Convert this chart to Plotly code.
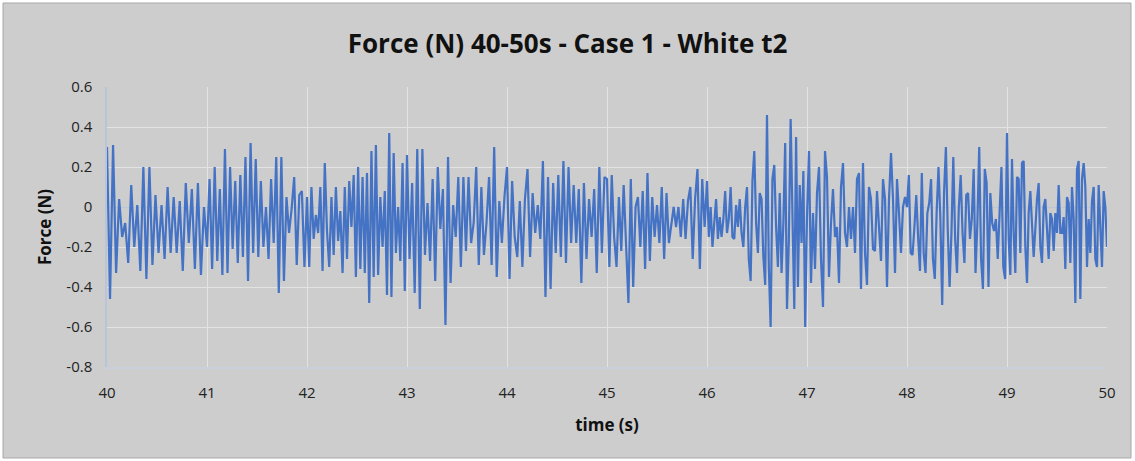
import numpy as np
import plotly.graph_objects as go

# Force values (N), listed per one-second window (peaks/troughs in order)
seconds = [40, 41, 42, 43, 44, 45, 46, 47, 48, 49]
f40 = [0.30, -0.46, 0.31, -0.33, 0.04, -0.15, -0.08, -0.28, 0.11, -0.20, 0.01, -0.32, 0.20, -0.36, 0.20, -0.29,
       0.06, -0.23, 0.01, -0.26, 0.10, -0.23, 0.05, -0.23, 0.03, -0.32, 0.12, -0.18, 0.09, -0.31, 0.12, -0.34, 0.00]
f41 = [-0.20, 0.14, -0.31, 0.20, -0.27, 0.09, -0.34, 0.29, -0.33, 0.20, -0.21, 0.13, -0.28, 0.16, -0.25, 0.25,
       -0.37, 0.32, -0.23, 0.24, -0.25, 0.13, -0.20, 0.00, -0.26, 0.14, -0.18, 0.25, -0.43, 0.25, -0.37, 0.05,
       -0.13, -0.01, 0.15, -0.29, 0.06, 0.08, -0.30]
f42 = [0.05, -0.30, 0.10, -0.16, -0.04, -0.13, 0.10, -0.32, 0.22, -0.12, -0.30, 0.05, -0.24, 0.10, -0.17, -0.02,
       -0.33, 0.10, -0.26, 0.13, -0.10, 0.16, -0.35, 0.20, -0.31, 0.15, -0.33, 0.17, -0.48, 0.28, -0.35, 0.31,
       -0.34, 0.05, -0.20, 0.08, -0.44, 0.37, -0.45, 0.27, -0.23, 0.00, -0.27, 0.22, -0.42]
f43 = [0.26, -0.26, 0.12, -0.43, 0.29, -0.51, 0.29, -0.24, 0.02, -0.27, 0.14, -0.37, 0.20, -0.11, 0.09, -0.59,
       0.25, -0.38, 0.01, -0.15, 0.15, -0.30, 0.15, -0.22, 0.15, -0.18, -0.08, 0.20, -0.29, 0.10, -0.24, -0.08,
       0.15, -0.29, 0.30, -0.35, 0.03, -0.18, 0.05]
f44 = [0.20, -0.36, 0.13, -0.15, -0.25, 0.03, -0.30, 0.04, 0.19, -0.25, 0.07, -0.13, 0.01, -0.16, 0.23, -0.45,
       0.15, -0.41, 0.12, -0.23, 0.16, -0.25, 0.23, -0.28, 0.20, -0.18, 0.11, -0.18, 0.09, -0.38, 0.12, -0.26,
       0.04, -0.15, 0.09, -0.33, 0.20, -0.23, 0.15]
f45 = [0.14, -0.30, 0.16, -0.15, -0.30, 0.05, -0.22, 0.11, -0.21, -0.48, 0.14, -0.40, 0.00, 0.05, -0.20, 0.08,
       -0.31, 0.17, -0.27, 0.05, -0.15, 0.01, -0.18, 0.10, -0.26, 0.07, -0.18, -0.08, 0.00, -0.10, 0.00, -0.15,
       0.04, -0.16, 0.03, 0.10, -0.26, 0.04, 0.19, -0.31, 0.14, -0.10]
f46 = [0.13, -0.15, 0.00, -0.20, -0.06, 0.04, -0.16, -0.05, -0.15, -0.06, 0.08, -0.13, -0.06, 0.10, -0.15, -0.16,
       0.01, -0.10, 0.04, -0.13, -0.20, 0.00, 0.10, -0.26, -0.37, 0.13, 0.28, -0.08, -0.23, 0.07, 0.04, -0.25,
       -0.39, 0.46, -0.30, -0.60, 0.14, 0.21, -0.10, -0.30, 0.07, -0.33, -0.08, 0.32, -0.51, -0.17, 0.44, -0.15,
       -0.51, 0.35, -0.40, 0.11, -0.18, 0.18, -0.60]
f47 = [-0.05, 0.28, -0.38, -0.03, -0.31, 0.07, 0.20, -0.26, -0.50, 0.28, 0.15, -0.35, -0.08, 0.09, -0.15, -0.10,
       -0.38, 0.10, 0.22, -0.13, -0.20, 0.00, -0.16, 0.00, -0.23, 0.14, 0.17, -0.41, 0.22, -0.23, -0.39, 0.10,
       0.04, -0.21, -0.22, 0.08, -0.10, -0.27, 0.14, 0.04, -0.40, 0.04, 0.27, 0.04, -0.33, 0.14, -0.03, -0.23,
       0.00, 0.05]
f48 = [0.00, 0.16, -0.23, -0.24, -0.10, 0.06, -0.15, -0.32, 0.17, -0.23, -0.33, -0.03, 0.02, 0.14, -0.26, -0.36,
       -0.03, 0.20, -0.05, -0.49, 0.07, 0.30, -0.11, -0.40, -0.13, 0.25, -0.16, -0.33, 0.00, 0.16, -0.13, -0.28,
       0.06, 0.07, -0.16, -0.06, 0.19, -0.33, -0.08, 0.30, -0.26, -0.41, 0.19, 0.12, -0.40, 0.07, -0.08, -0.12,
       -0.06, -0.26, -0.03, 0.20, -0.30, -0.36]
f49 = [0.37, -0.16, -0.34, 0.24, -0.13, -0.33, 0.15, 0.14, -0.23, 0.22, 0.23, -0.20, -0.38, -0.03, 0.08, -0.08,
       -0.25, -0.11, 0.04, 0.12, -0.20, -0.28, 0.00, 0.04, -0.10, -0.26, -0.03, -0.06, -0.22, -0.03, -0.13, 0.11,
       -0.13, -0.13, -0.05, -0.31, 0.05, 0.02, -0.28, 0.10, -0.06, -0.48, 0.19, 0.23, -0.46, 0.14, 0.22, 0.10,
       -0.30, -0.06, -0.23, 0.03, 0.10, -0.26, -0.30, 0.11, -0.10, -0.30, 0.08, 0.00]
end_time = 50.0
end_force = -0.20

y_tickvals = [0.6, 0.4, 0.2, 0, -0.2, -0.4, -0.6, -0.8]
y_ticktext = ["0.6", "0.4", "0.2", "0", "-0.2", "-0.4", "-0.6", "-0.8"]
x_tickvals = [40, 41, 42, 43, 44, 45, 46, 47, 48, 49, 50]

segments = [f40, f41, f42, f43, f44, f45, f46, f47, f48, f49]
t_list, f_list = [], []
for s, seg in zip(seconds, segments):
    t_list.extend(np.linspace(s, s + 1, len(seg), endpoint=False).tolist())
    f_list.extend(seg)
t_list.append(end_time)
f_list.append(end_force)

W, H = 1135, 461
L, R, T, B = 107, 28, 87, 94
pw, ph = W - L - R, H - T - B

fig = go.Figure()
fig.add_trace(go.Scatter(x=t_list, y=f_list, mode="lines",
                         line=dict(color="#4472C4", width=2.2), showlegend=False))

font_family = "Open Sans, Lato, sans-serif"
fig.update_layout(
    width=W, height=H,
    margin=dict(l=L, r=R, t=T, b=B),
    paper_bgcolor="#ffffff",
    plot_bgcolor="rgba(0,0,0,0)",
    title=dict(text="<b>Force (N) 40-50s - Case 1 - White t2</b>", x=0.5, xanchor="center",
               y=1 - 44 / H, yanchor="middle",
               font=dict(family=font_family, size=26, color="#111111")),
    font=dict(family=font_family, color="#222222"),
    shapes=[dict(type="rect", xref="paper", yref="paper", layer="below",
                 x0=(3 - L) / pw, x1=(W - 4 - L) / pw,
                 y0=(T + ph - (H - 3)) / ph, y1=(T + ph - 3) / ph,
                 fillcolor="#cdcdcd", line=dict(color="#a8a8a8", width=1))],
)
fig.update_xaxes(range=[40, 50], tickvals=x_tickvals, showgrid=True, gridcolor="#e3e3e3", gridwidth=1.3,
                 zeroline=False, showline=True, linecolor="#c8d0dc", linewidth=1.5,
                 ticks="outside", ticklen=11, tickcolor="rgba(0,0,0,0)",
                 tickfont=dict(size=15, color="#222222"),
                 title=dict(text="<b>time (s)</b>", font=dict(size=17, color="#111111"), standoff=18))
fig.update_yaxes(range=[-0.8, 0.6], tickvals=y_tickvals, ticktext=y_ticktext, showgrid=True,
                 gridcolor="#e3e3e3", gridwidth=1.3,
                 zeroline=True, zerolinecolor="#bcc6d6", zerolinewidth=1.3,
                 showline=True, linecolor="#b8c4d8", linewidth=1.5,
                 ticks="outside", ticklen=10, tickcolor="rgba(0,0,0,0)",
                 tickfont=dict(size=15, color="#222222"),
                 title=dict(text="<b>Force (N)</b>", font=dict(size=17, color="#111111"), standoff=10))

fig.write_html("out.html")
